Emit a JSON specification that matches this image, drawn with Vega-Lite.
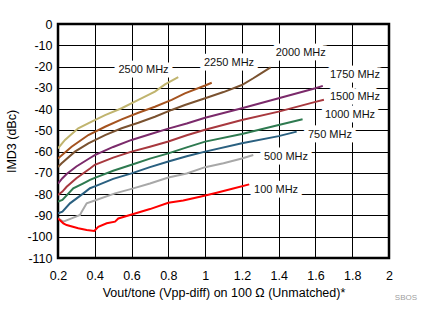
{
  "$schema": "https://vega.github.io/schema/vega-lite/v6.json",
  "width": 331,
  "height": 234,
  "autosize": {"type": "none"},
  "padding": {"left": 58, "top": 24, "right": 44, "bottom": 66},
  "config": {
    "view": {"stroke": "#000", "strokeWidth": 2.5},
    "font": "Liberation Sans",
    "axis": {
      "domain": false,
      "ticks": false,
      "grid": true,
      "gridColor": "#000",
      "gridOpacity": 1,
      "gridWidth": 1,
      "labelOverlap": false,
      "labelFlush": false,
      "labelBound": false,
      "labelFont": "Liberation Sans",
      "labelFontSize": 12.5,
      "labelColor": "#000",
      "titleFont": "Liberation Sans",
      "titleFontSize": 12.5,
      "titleFontWeight": "normal",
      "titleColor": "#000"
    }
  },
  "datasets": {
    "curves": [
      {"s": "2500", "x": 0.2, "y": -58.5}, {"s": "2500", "x": 0.238, "y": -54.5}, {"s": "2500", "x": 0.31, "y": -49}, {"s": "2500", "x": 0.383, "y": -45.9}, {"s": "2500", "x": 0.456, "y": -42.8}, {"s": "2500", "x": 0.546, "y": -39.6}, {"s": "2500", "x": 0.637, "y": -35.7}, {"s": "2500", "x": 0.727, "y": -31.8}, {"s": "2500", "x": 0.782, "y": -28.4}, {"s": "2500", "x": 0.854, "y": -25},
      {"s": "2250", "x": 0.2, "y": -63.2}, {"s": "2250", "x": 0.274, "y": -57.7}, {"s": "2250", "x": 0.365, "y": -52.2}, {"s": "2250", "x": 0.456, "y": -48.3}, {"s": "2250", "x": 0.546, "y": -44.8}, {"s": "2250", "x": 0.637, "y": -41.7}, {"s": "2250", "x": 0.727, "y": -38.9}, {"s": "2250", "x": 0.818, "y": -35.7}, {"s": "2250", "x": 0.89, "y": -32.6}, {"s": "2250", "x": 1.0, "y": -28.9}, {"s": "2250", "x": 1.036, "y": -27.6},
      {"s": "2000", "x": 0.2, "y": -67.2}, {"s": "2000", "x": 0.22, "y": -65.5}, {"s": "2000", "x": 0.292, "y": -60}, {"s": "2000", "x": 0.365, "y": -56.1}, {"s": "2000", "x": 0.456, "y": -52.2}, {"s": "2000", "x": 0.546, "y": -49}, {"s": "2000", "x": 0.637, "y": -46.4}, {"s": "2000", "x": 0.727, "y": -43.6}, {"s": "2000", "x": 0.818, "y": -40.4}, {"s": "2000", "x": 0.89, "y": -38.1}, {"s": "2000", "x": 1.0, "y": -34.9}, {"s": "2000", "x": 1.1, "y": -32}, {"s": "2000", "x": 1.2, "y": -28.7}, {"s": "2000", "x": 1.262, "y": -25.5}, {"s": "2000", "x": 1.289, "y": -24}, {"s": "2000", "x": 1.356, "y": -20.4},
      {"s": "1750", "x": 0.2, "y": -75}, {"s": "1750", "x": 0.224, "y": -72.5}, {"s": "1750", "x": 0.247, "y": -70.5}, {"s": "1750", "x": 0.3, "y": -67}, {"s": "1750", "x": 0.374, "y": -63}, {"s": "1750", "x": 0.4, "y": -61.6}, {"s": "1750", "x": 0.5, "y": -57.8}, {"s": "1750", "x": 0.6, "y": -54.5}, {"s": "1750", "x": 0.7, "y": -51.8}, {"s": "1750", "x": 0.8, "y": -49.2}, {"s": "1750", "x": 0.9, "y": -46.8}, {"s": "1750", "x": 1.0, "y": -44.1}, {"s": "1750", "x": 1.2, "y": -39.6}, {"s": "1750", "x": 1.4, "y": -34.9}, {"s": "1750", "x": 1.6, "y": -30.2}, {"s": "1750", "x": 1.64, "y": -29.1},
      {"s": "1500", "x": 0.2, "y": -80.4}, {"s": "1500", "x": 0.224, "y": -78.8}, {"s": "1500", "x": 0.247, "y": -76.5}, {"s": "1500", "x": 0.3, "y": -72.5}, {"s": "1500", "x": 0.374, "y": -67.9}, {"s": "1500", "x": 0.4, "y": -66.2}, {"s": "1500", "x": 0.5, "y": -62.8}, {"s": "1500", "x": 0.6, "y": -60}, {"s": "1500", "x": 0.7, "y": -57.7}, {"s": "1500", "x": 0.8, "y": -55.2}, {"s": "1500", "x": 0.9, "y": -52.3}, {"s": "1500", "x": 1.0, "y": -49.7}, {"s": "1500", "x": 1.2, "y": -45.1}, {"s": "1500", "x": 1.4, "y": -41.2}, {"s": "1500", "x": 1.6, "y": -36.6}, {"s": "1500", "x": 1.646, "y": -35.6},
      {"s": "1000", "x": 0.2, "y": -83.5}, {"s": "1000", "x": 0.224, "y": -82.7}, {"s": "1000", "x": 0.283, "y": -77.3}, {"s": "1000", "x": 0.338, "y": -74.9}, {"s": "1000", "x": 0.374, "y": -73.3}, {"s": "1000", "x": 0.4, "y": -72.3}, {"s": "1000", "x": 0.5, "y": -69}, {"s": "1000", "x": 0.6, "y": -66.2}, {"s": "1000", "x": 0.7, "y": -63.3}, {"s": "1000", "x": 0.8, "y": -60.8}, {"s": "1000", "x": 0.9, "y": -58}, {"s": "1000", "x": 1.0, "y": -55.3}, {"s": "1000", "x": 1.2, "y": -51.7}, {"s": "1000", "x": 1.4, "y": -47.5}, {"s": "1000", "x": 1.53, "y": -44.8},
      {"s": "750", "x": 0.2, "y": -89}, {"s": "750", "x": 0.224, "y": -88.2}, {"s": "750", "x": 0.265, "y": -84.3}, {"s": "750", "x": 0.338, "y": -79.6}, {"s": "750", "x": 0.374, "y": -77.2}, {"s": "750", "x": 0.4, "y": -76.3}, {"s": "750", "x": 0.5, "y": -72.8}, {"s": "750", "x": 0.6, "y": -70.2}, {"s": "750", "x": 0.7, "y": -67.3}, {"s": "750", "x": 0.8, "y": -64.6}, {"s": "750", "x": 0.9, "y": -62.2}, {"s": "750", "x": 1.0, "y": -60}, {"s": "750", "x": 1.2, "y": -56.1}, {"s": "750", "x": 1.4, "y": -52.7}, {"s": "750", "x": 1.498, "y": -50.6},
      {"s": "500", "x": 0.2, "y": -91.4}, {"s": "500", "x": 0.229, "y": -92.9}, {"s": "500", "x": 0.274, "y": -91.4}, {"s": "500", "x": 0.32, "y": -89.8}, {"s": "500", "x": 0.329, "y": -88.2}, {"s": "500", "x": 0.356, "y": -84.3}, {"s": "500", "x": 0.4, "y": -83}, {"s": "500", "x": 0.51, "y": -79.6}, {"s": "500", "x": 0.6, "y": -77.5}, {"s": "500", "x": 0.7, "y": -75}, {"s": "500", "x": 0.8, "y": -72.2}, {"s": "500", "x": 0.9, "y": -70.3}, {"s": "500", "x": 1.0, "y": -67.3}, {"s": "500", "x": 1.1, "y": -65.5}, {"s": "500", "x": 1.2, "y": -63.2}, {"s": "500", "x": 1.262, "y": -61.6},
      {"s": "100", "x": 0.2, "y": -91.4}, {"s": "100", "x": 0.229, "y": -93.7}, {"s": "100", "x": 0.247, "y": -94.5}, {"s": "100", "x": 0.31, "y": -96}, {"s": "100", "x": 0.356, "y": -96.8}, {"s": "100", "x": 0.397, "y": -97.3}, {"s": "100", "x": 0.419, "y": -95.3}, {"s": "100", "x": 0.465, "y": -93.7}, {"s": "100", "x": 0.51, "y": -92.9}, {"s": "100", "x": 0.528, "y": -91.4}, {"s": "100", "x": 0.61, "y": -89.3}, {"s": "100", "x": 0.7, "y": -87}, {"s": "100", "x": 0.8, "y": -84}, {"s": "100", "x": 0.881, "y": -83}, {"s": "100", "x": 0.972, "y": -81.2}, {"s": "100", "x": 1.063, "y": -79.3}, {"s": "100", "x": 1.153, "y": -77.3}, {"s": "100", "x": 1.24, "y": -75.4}
    ],
    "labels": [
      {"t": "2500 MHz", "x": 0.665, "y": -21.6},
      {"t": "2250 MHz", "x": 1.13, "y": -18.2},
      {"t": "2000 MHz", "x": 1.52, "y": -13.5},
      {"t": "1750 MHz", "x": 1.815, "y": -24},
      {"t": "1500 MHz", "x": 1.815, "y": -34.5},
      {"t": "1000 MHz", "x": 1.788, "y": -42.8},
      {"t": "750 MHz", "x": 1.679, "y": -52.2},
      {"t": "500 MHz", "x": 1.44, "y": -62.7},
      {"t": "100 MHz", "x": 1.386, "y": -78}
    ],
    "note": [{"t": "SBOS", "x": 2.092, "y": -128.8}]
  },
  "encoding": {
    "x": {
      "field": "x", "type": "quantitative",
      "scale": {"domain": [0.2, 2], "nice": false, "zero": false},
      "axis": {
        "values": [0.2, 0.4, 0.6, 0.8, 1, 1.2, 1.4, 1.6, 1.8, 2],
        "labelExpr": "format(datum.value, '.1~f')",
        "labelPadding": 11,
        "titlePadding": 5,
        "title": "Vout/tone (Vpp-diff) on 100 Ω (Unmatched)*"
      }
    },
    "y": {
      "field": "y", "type": "quantitative",
      "scale": {"domain": [-110, 0], "nice": false, "zero": false},
      "axis": {
        "values": [-110, -100, -90, -80, -70, -60, -50, -40, -30, -20, -10, 0],
        "labelExpr": "toString(datum.value)",
        "labelPadding": 6,
        "titlePadding": 8,
        "title": "IMD3 (dBc)"
      }
    }
  },
  "layer": [
    {
      "data": {"name": "curves"},
      "mark": {"type": "line", "strokeWidth": 2, "clip": true},
      "encoding": {
        "color": {
          "field": "s", "type": "nominal", "legend": null,
          "scale": {
            "domain": ["2500", "2250", "2000", "1750", "1500", "1000", "750", "500", "100"],
            "range": ["#c0b46e", "#a5531f", "#7a5230", "#7b2a6b", "#a8383e", "#2e7a50", "#2a6080", "#a8a8a8", "#ff0000"]
          }
        }
      }
    },
    {
      "data": {"name": "labels"},
      "mark": {"type": "text", "fontSize": 11, "font": "Liberation Sans", "stroke": "#fff", "strokeWidth": 9, "strokeJoin": "round", "fill": "#fff"},
      "encoding": {"text": {"field": "t"}}
    },
    {
      "data": {"name": "labels"},
      "mark": {"type": "text", "fontSize": 11, "font": "Liberation Sans", "fill": "#111"},
      "encoding": {"text": {"field": "t"}}
    },
    {
      "data": {"name": "note"},
      "mark": {"type": "text", "fontSize": 8, "font": "Liberation Sans", "fill": "#a0a0a0"},
      "encoding": {"text": {"field": "t"}}
    }
  ]
}
